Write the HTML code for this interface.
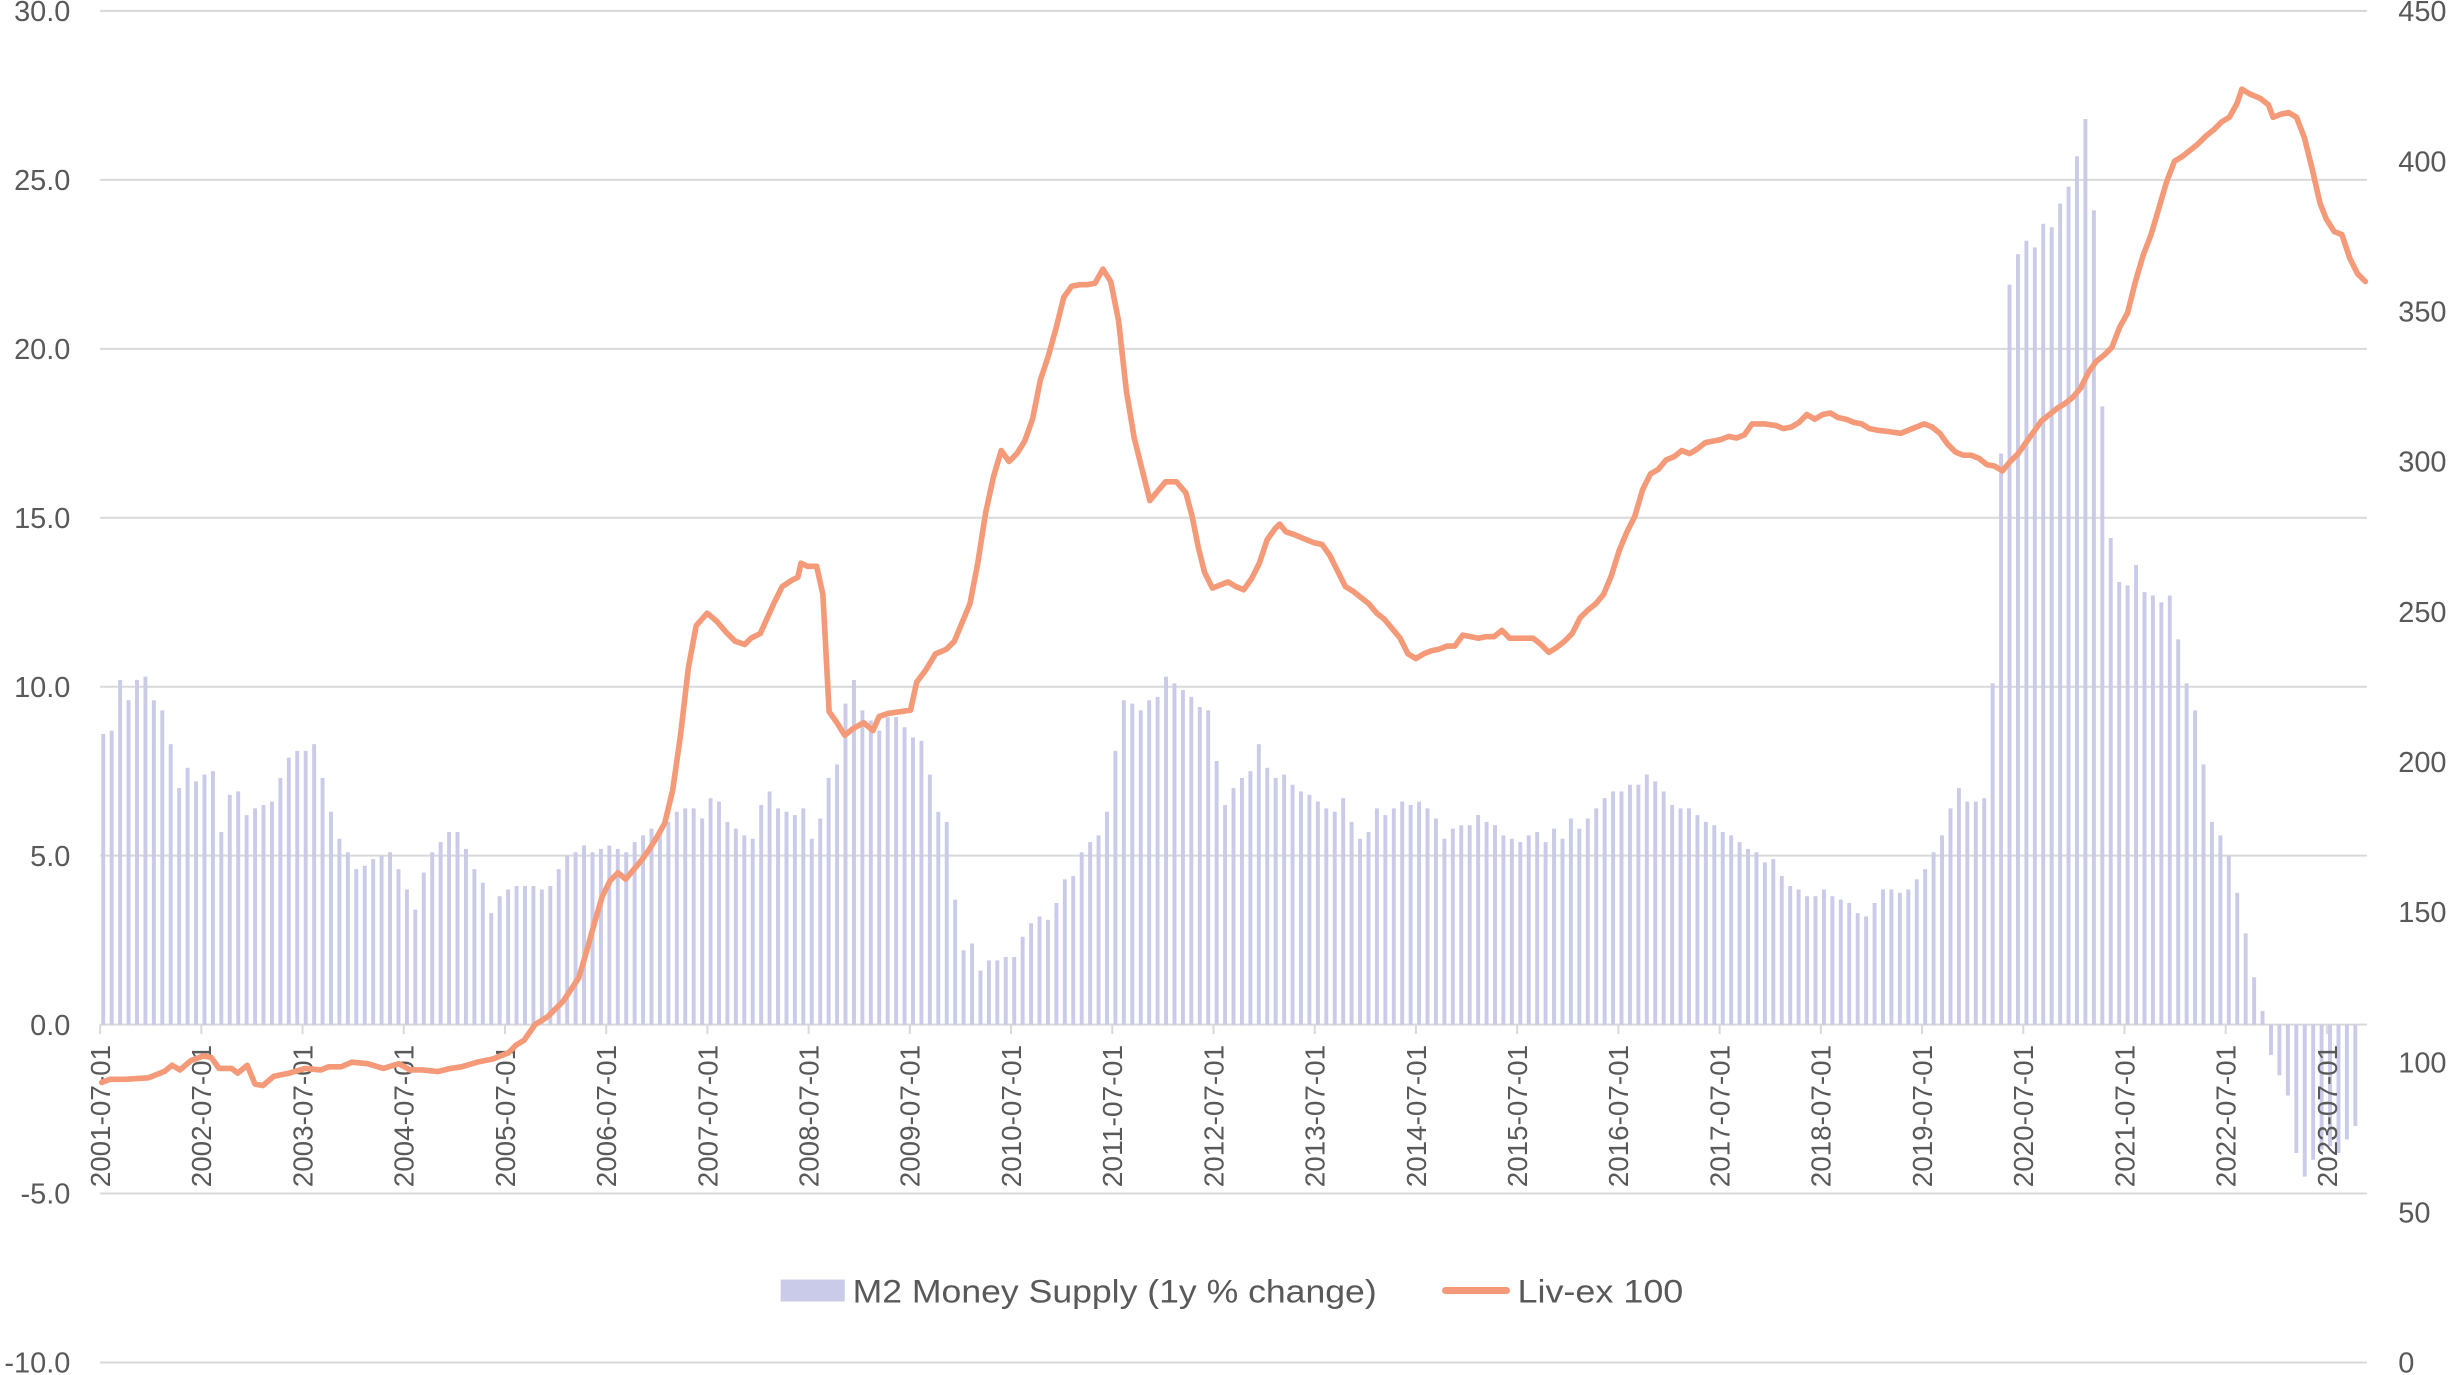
<!DOCTYPE html>
<html><head><meta charset="utf-8"><style>
html,body{margin:0;padding:0;background:#fff;}
svg{display:block;}
text{font-family:"Liberation Sans",sans-serif;fill:#595959;}
</style></head><body>
<svg id="c" width="2453" height="1375" viewBox="0 0 1568 879" preserveAspectRatio="none" xmlns="http://www.w3.org/2000/svg"></svg>
<script>
const s=document.getElementById('c');let h='';
const yL=v=>655-v*21.6;
for(let v=30;v>=-10;v-=5){const y=yL(v);h+=`<line x1="64" x2="1513" y1="${y}" y2="${y}" stroke="#d9d9d9" stroke-width="1.3"/>`;
h+=`<text x="45" y="${y+6.5}" font-size="18.5" text-anchor="end">${v.toFixed(1)}</text>`;}
for(let i=0;i<=9;i++){const v=i*50;const y=871-v*1.92;h+=`<text x="1533" y="${y+6.5}" font-size="18.5">${v}</text>`;}
const m2=[8.6,8.7,10.2,9.6,10.2,10.3,9.6,9.3,8.3,7.0,7.6,7.2,
7.4,7.5,5.7,6.8,6.9,6.2,6.4,6.5,6.6,7.3,7.9,8.1,
8.1,8.3,7.3,6.3,5.5,5.1,4.6,4.7,4.9,5.0,5.1,4.6,
4.0,3.4,4.5,5.1,5.4,5.7,5.7,5.2,4.6,4.2,3.3,3.8,
4.0,4.1,4.1,4.1,4.0,4.1,4.6,5.0,5.1,5.3,5.1,5.2,
5.3,5.2,5.1,5.4,5.6,5.8,5.7,6.0,6.3,6.4,6.4,6.1,
6.7,6.6,6.0,5.8,5.6,5.5,6.5,6.9,6.4,6.3,6.2,6.4,
5.5,6.1,7.3,7.7,9.5,10.2,9.3,9.0,8.7,9.1,9.1,8.8,
8.5,8.4,7.4,6.3,6.0,3.7,2.2,2.4,1.6,1.9,1.9,2.0,
2.0,2.6,3.0,3.2,3.1,3.6,4.3,4.4,5.1,5.4,5.6,6.3,
8.1,9.6,9.5,9.3,9.6,9.7,10.3,10.1,9.9,9.7,9.4,9.3,
7.8,6.5,7.0,7.3,7.5,8.3,7.6,7.3,7.4,7.1,6.9,6.8,
6.6,6.4,6.3,6.7,6.0,5.5,5.7,6.4,6.2,6.4,6.6,6.5,
6.6,6.4,6.1,5.5,5.8,5.9,5.9,6.2,6.0,5.9,5.6,5.5,
5.4,5.6,5.7,5.4,5.8,5.5,6.1,5.8,6.1,6.4,6.7,6.9,
6.9,7.1,7.1,7.4,7.2,6.9,6.5,6.4,6.4,6.2,6.0,5.9,
5.7,5.6,5.4,5.2,5.1,4.8,4.9,4.4,4.1,4.0,3.8,3.8,
4.0,3.8,3.7,3.6,3.3,3.2,3.6,4.0,4.0,3.9,4.0,4.3,
4.6,5.1,5.6,6.4,7.0,6.6,6.6,6.7,10.1,16.9,21.9,22.8,
23.2,23.0,23.7,23.6,24.3,24.8,25.7,26.8,24.1,18.3,14.4,13.1,
13.0,13.6,12.8,12.7,12.5,12.7,11.4,10.1,9.3,7.7,6.0,5.6,
5.0,3.9,2.7,1.4,0.4,-0.9,-1.5,-2.1,-3.8,-4.5,-4.0,-3.7,
-3.6,-3.8,-3.4,-3.0];
const mw=64.7/12;
m2.forEach((v,i)=>{const x=66+i*mw;const y0=yL(0),y1=yL(v);h+=`<rect x="${x-1.25}" y="${Math.min(y0,y1)}" width="2.5" height="${Math.abs(y1-y0)}" fill="#c9cbe8"/>`;});
for(let i=0;i<=22;i++){const x=64+i*64.7;h+=`<line x1="${x}" x2="${x}" y1="655" y2="661" stroke="#d9d9d9" stroke-width="1.3"/>`;
h+=`<text transform="translate(${x+6.3},668) rotate(-90)" font-size="17.5" text-anchor="end" textLength="91" lengthAdjust="spacingAndGlyphs">${2001+i}-07-01</text>`;}
const p=[[65,692],[70,690],[80,690],[95,689],[105,685],[110,681],[115,684],[122,678],[130,675],[135,676],[140,683],[148,683],[152,686],[158,681],[163,693],[168,694],[175,688],[185,686],[195,683],[205,684],[210,682],[218,682],[225,679],[235,680],[245,683],[255,680],[262,684],[270,684],[280,685],[288,683],[295,682],[305,679],[315,677],[325,673],[330,668],[335,665],[342,655],[350,650],[360,640],[370,625],[375,608],[380,590],[385,573],[390,563],[395,558],[400,562],[405,556],[410,550],[415,543],[420,535],[425,526],[430,505],[435,470],[440,427],[445,400],[452,392],[458,397],[464,404],[470,410],[476,412],[480,408],[486,405],[490,396],[495,385],[500,375],[506,371],[510,369],[512,360],[516,362],[522,362],[526,380],[530,455],[535,462],[540,470],[545,466],[552,462],[558,467],[562,458],[568,456],[575,455],[582,454],[586,436],[592,428],[598,418],[605,415],[610,410],[615,398],[620,386],[625,360],[630,328],[635,305],[640,288],[645,295],[650,290],[655,282],[660,268],[665,243],[670,228],[675,210],[680,190],[685,183],[690,182],[695,182],[700,181],[705,172],[710,180],[715,205],[720,250],[725,280],[730,300],[735,320],[740,314],[745,308],[752,308],[758,315],[762,330],[766,350],[770,366],[775,376],[780,374],[785,372],[790,375],[795,377],[800,370],[805,360],[810,345],[815,338],[818,335],[822,340],[828,342],[835,345],[840,347],[845,348],[850,355],[855,365],[860,375],[865,378],[870,382],[875,386],[880,392],[885,396],[890,402],[895,408],[900,418],[905,421],[910,418],[915,416],[920,415],[925,413],[930,413],[935,406],[940,407],[945,408],[950,407],[955,407],[960,403],[965,408],[970,408],[975,408],[980,408],[985,412],[990,417],[995,414],[1000,410],[1005,405],[1010,395],[1015,390],[1020,386],[1025,380],[1030,368],[1035,352],[1040,340],[1045,330],[1050,313],[1055,303],[1060,300],[1065,294],[1070,292],[1075,288],[1080,290],[1085,287],[1090,283],[1095,282],[1100,281],[1105,279],[1110,280],[1115,278],[1120,271],[1128,271],[1135,272],[1140,274],[1145,273],[1150,270],[1155,265],[1160,268],[1165,265],[1170,264],[1175,267],[1180,268],[1185,270],[1190,271],[1195,274],[1200,275],[1208,276],[1215,277],[1220,275],[1225,273],[1230,271],[1235,273],[1240,277],[1245,284],[1250,289],[1255,291],[1260,291],[1265,293],[1270,297],[1275,298],[1280,301],[1285,295],[1290,290],[1295,283],[1300,276],[1305,269],[1310,265],[1315,261],[1320,258],[1325,254],[1330,248],[1335,238],[1340,231],[1345,227],[1350,222],[1355,209],[1360,200],[1365,180],[1370,163],[1375,150],[1380,133],[1385,116],[1390,103],[1395,100],[1400,96],[1405,92],[1410,87],[1415,83],[1420,78],[1425,75],[1430,66],[1433,57],[1438,60],[1445,63],[1450,67],[1453,75],[1458,73],[1463,72],[1468,75],[1473,88],[1478,108],[1483,130],[1487,140],[1492,148],[1497,150],[1502,165],[1507,175],[1512,180]];
h+=`<polyline points="${p.map(a=>a.join(',')).join(' ')}" fill="none" stroke="#f59a78" stroke-width="3.6" stroke-linejoin="round" stroke-linecap="round"/>`;
h+=`<rect x="499" y="818" width="41" height="14" fill="#c9cbe8"/>`;
h+=`<text x="545" y="832.5" font-size="20.5" textLength="335" lengthAdjust="spacingAndGlyphs">M2 Money Supply (1y % change)</text>`;
h+=`<line x1="924" x2="963" y1="825" y2="825" stroke="#f59a78" stroke-width="4.5" stroke-linecap="round"/>`;
h+=`<text x="970" y="832.5" font-size="20.5" textLength="106" lengthAdjust="spacingAndGlyphs">Liv-ex 100</text>`;
s.innerHTML=h;
</script>
</body></html>
